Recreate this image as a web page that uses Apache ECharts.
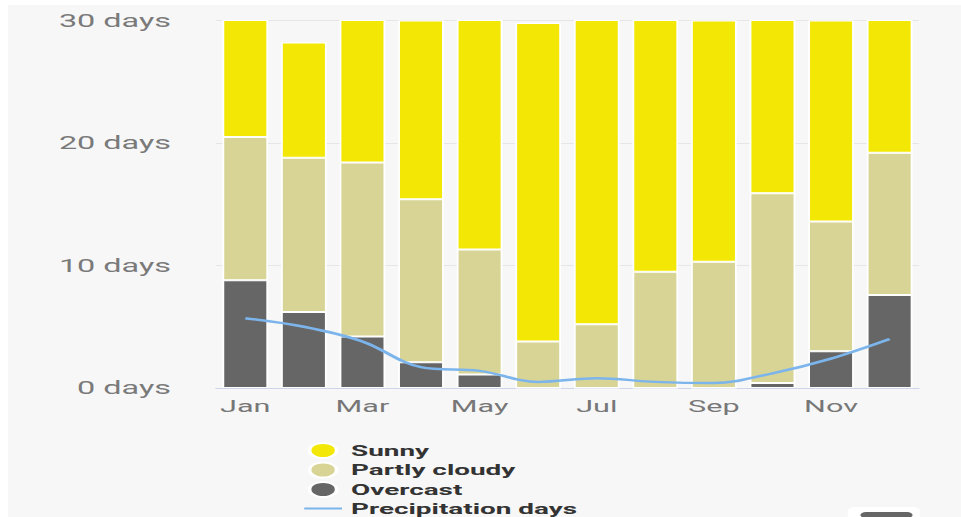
<!DOCTYPE html>
<html>
<head>
<meta charset="utf-8">
<script src="https://cdn.jsdelivr.net/npm/echarts@6/dist/echarts.min.js"></script>
<style>
  html, body { margin: 0; padding: 0; background: #ffffff; overflow: hidden; }
  #panel { position: absolute; left: 8px; top: 5px; width: 953px; height: 512px; background: #f7f7f7; }
  /* the chart is laid out narrow and widened horizontally */
  #chart { position: absolute; left: 0; top: 0; width: 534px; height: 517px;
           transform: scaleX(1.8); transform-origin: 0 0; }
</style>
</head>
<body>
<div id="panel"></div>
<div id="chart"></div>
<script>
// Monthly cloud cover and precipitation days
const months = ['Jan', 'Feb', 'Mar', 'Apr', 'May', 'Jun', 'Jul', 'Aug', 'Sep', 'Oct', 'Nov', 'Dec'];
const overcast = [8.8, 6.2, 4.2, 2.1, 1.1, 0, 0, 0, 0, 0.4, 3.0, 7.6];
const partlyCloudy = [11.7, 12.6, 14.2, 13.3, 10.2, 3.8, 5.2, 9.5, 10.3, 15.5, 10.6, 11.6];
const sunny = [10.5, 9.4, 12.6, 14.6, 19.7, 26.0, 25.8, 21.5, 19.7, 15.1, 16.4, 11.8];
const precipitationDays = [5.7, 5.0, 3.8, 1.7, 1.4, 0.5, 0.8, 0.5, 0.4, 1.2, 2.4, 4.0];
const yTicks = [0, 10, 20, 30];

const chart = echarts.init(document.getElementById('chart'), null, { renderer: 'svg' });

const barCommon = {
  type: 'bar',
  stack: 'days',
  barCategoryGap: '22%',
  clip: true,
  itemStyle: { borderColor: '#ffffff', borderWidth: 1 },
  emphasis: { disabled: true }
};

chart.setOption({
  animation: false,
  backgroundColor: 'transparent',
  textStyle: { fontFamily: 'Roboto, "Liberation Sans", sans-serif' },
  grid: { left: 120, right: 23.5, top: 20.5, bottom: 129, containLabel: false },
  xAxis: {
    type: 'category',
    data: months,
    axisTick: { show: false },
    axisLine: { show: true, lineStyle: { color: '#ccd6eb', width: 1 } },
    axisLabel: { interval: 1, color: '#777777', fontSize: 17, margin: 10 }
  },
  yAxis: {
    type: 'value',
    min: yTicks[0],
    max: yTicks[yTicks.length - 1],
    interval: yTicks[1] - yTicks[0],
    axisLine: { show: false },
    axisTick: { show: false },
    splitLine: { lineStyle: { color: '#e6e6e6', width: 1 } },
    axisLabel: { formatter: '{value} days', color: '#7a7a7a', fontSize: 18, margin: 25 }
  },
  legend: {
    orient: 'vertical',
    left: 168,
    top: 442,
    height: 90,
    padding: 0,
    itemWidth: 21,
    itemHeight: 15,
    itemGap: 2.5,
    symbolKeepAspect: true,
    selectedMode: false,
    textStyle: { color: '#333333', fontWeight: 'bold', fontSize: 15.5, lineHeight: 15 },
    data: [
      { name: 'Sunny', icon: 'circle' },
      { name: 'Partly cloudy', icon: 'circle' },
      { name: 'Overcast', icon: 'circle' },
      { name: 'Precipitation days', itemStyle: { opacity: 0, borderWidth: 0 } }
    ]
  },
  graphic: [
    { type: 'rect', left: 471, top: 507, shape: { width: 40, height: 14, r: 4 },
      style: { fill: '#ffffff' }, silent: true },
    { type: 'rect', left: 478, top: 512, shape: { width: 29, height: 6, r: 3 },
      style: { fill: '#666666' }, silent: true }
  ],
  series: [
    Object.assign({}, barCommon, { name: 'Overcast', data: overcast, itemStyle: Object.assign({}, barCommon.itemStyle, { color: '#666666' }) }),
    Object.assign({}, barCommon, { name: 'Partly cloudy', data: partlyCloudy, itemStyle: Object.assign({}, barCommon.itemStyle, { color: '#d8d495' }) }),
    Object.assign({}, barCommon, { name: 'Sunny', data: sunny, itemStyle: Object.assign({}, barCommon.itemStyle, { color: '#f3e805' }) }),
    {
      name: 'Precipitation days',
      type: 'line',
      data: precipitationDays,
      smooth: 0.35,
      symbol: 'none',
      z: 5,
      lineStyle: { color: '#7cb5ec', width: 2.5 },
      itemStyle: { color: '#7cb5ec' },
      emphasis: { disabled: true }
    }
  ]
});
</script>
</body>
</html>
